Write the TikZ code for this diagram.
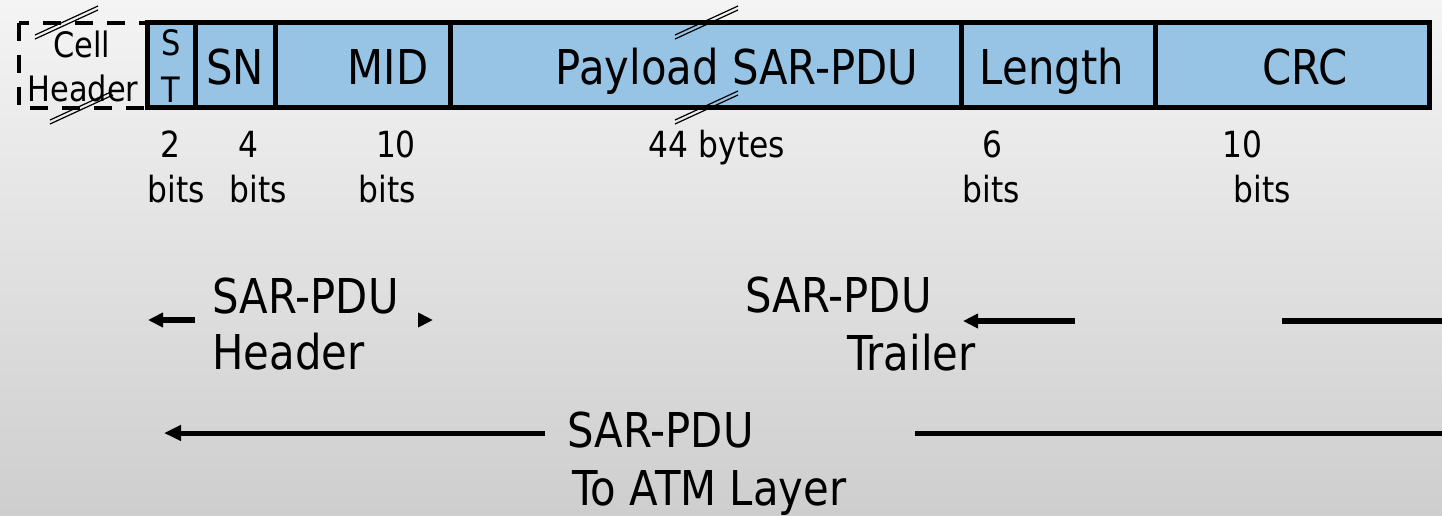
\documentclass[tikz,border=0pt]{standalone}
\usepackage{fontspec}
\setmainfont{DejaVu Sans}[FakeStretch=0.87]
\usetikzlibrary{arrows.meta, positioning, calc}
\definecolor{FieldBlue}{RGB}{151,196,228}
\definecolor{BgTop}{RGB}{244,244,244}
\definecolor{BgBottom}{RGB}{206,206,206}

\begin{document}
\begin{tikzpicture}[x=0.5pt,y=-0.5pt,
    field/.style={draw=black,fill=FieldBlue,line width=2.5pt,inner sep=0pt,outer sep=0pt,minimum height=42.5pt},
    big/.style={font=\fontsize{24}{29}\selectfont,inner sep=0pt,anchor=base},
    small/.style={font=\fontsize{18}{22}\selectfont,inner sep=0pt,anchor=base},
    brk/.style={line width=0.6pt},
    arr/.style={line width=3pt,-{Triangle[length=7.5pt,width=7pt]}}]
  \fill[top color=BgTop,bottom color=BgBottom] (0,0) rectangle (1442,515);
  \useasboundingbox (0,0) rectangle (1442,515);
  % cell header
  \draw[line width=2pt,dash pattern=on 9pt off 7pt] (19,22.5) rectangle (147,107.5);
  \node[font=\fontsize{17.5}{21}\selectfont,inner sep=0pt,anchor=base] (cellA) at (82,57) {Cell};
  \node[font=\fontsize{17.5}{21}\selectfont,inner sep=0pt,anchor=base] (cellB) at (83,101) {Header};
  % fields
  \foreach \xa/\xb/\nm in {147/195/st,195/275/sn,275/450/mid,450/961/pay,961/1155/len,1155/1429/crc}{
    \node[field,minimum width={(\xb-\xa)*0.5pt}] (\nm) at ({(\xa+\xb)/2},64.5) {};
  }
  \node[font=\fontsize{17.5}{21}\selectfont,inner sep=0pt,anchor=base] (stS) at (171,55) {S};
  \node[font=\fontsize{17.5}{21}\selectfont,inner sep=0pt,anchor=base] (stT) at (171,102) {T};
  \node[big] (lblSN) at (235,84) {SN};
  \node[big] (lblMID) at (388,84) {MID};
  \node[big] (lblPay) at (737,84) {Payload SAR-PDU};
  \node[big] (lblLen) at (1052,84) {Length};
  \node[big] (lblCRC) at (1305,84) {CRC};
  % break marks
  \foreach \x/\y in {35/35,50/120,675/35,675/120}
    \foreach \d in {0,4}
      \draw[brk] (\x,\y+\d) -- (\x+63,\y+\d-29);
  % sizes
  \foreach \x/\t [count=\i] in {170/2,248/4,396/10,717/44 bytes,992/6,1242/10}
    \node[small] (num\i) at (\x,157) {\t};
  \foreach \x [count=\i] in {176,258,387,991,1262}
    \node[small] (unit\i) at (\x,202) {bits};
  % header / trailer
  \node[big,anchor=base west] (hdrA) at (212,313) {SAR-PDU};
  \node[big,anchor=base west] (hdrB) at (212,369) {Header};
  \node[big,anchor=base west] (trlA) at (745,312) {SAR-PDU};
  \node[big,anchor=base west] (trlB) at (847,370) {Trailer};
  \coordinate (hL1) at (195,320);
  \coordinate (hL2) at (148,320);
  \coordinate (hR1) at (418,320);
  \coordinate (hR2) at (433,320);
  \coordinate (tL1) at (1075,321);
  \coordinate (tL2) at (963,321);
  \coordinate (tR1) at (1282,321);
  \coordinate (tR2) at (1442,321);
  \draw[arr] (hL1) -- (hL2);
  \draw[arr] (hR1) -- (hR2);
  \draw[arr] (tL1) -- (tL2);
  \draw[line width=3pt] (tR1) -- (tR2);
  % whole cell
  \node[big,anchor=base west] (atmA) at (567,447) {SAR-PDU};
  \node[big,anchor=base west] (atmB) at (572,505) {To ATM Layer};
  \coordinate (aL1) at (545,433);
  \coordinate (aL2) at (164,433);
  \coordinate (aR1) at (915,433);
  \coordinate (aR2) at (1442,433);
  \draw[line width=2.5pt,-{Triangle[length=8.5pt,width=7.5pt]}] (aL1) -- (aL2);
  \draw[line width=2.5pt] (aR1) -- (aR2);
\end{tikzpicture}
\end{document}
